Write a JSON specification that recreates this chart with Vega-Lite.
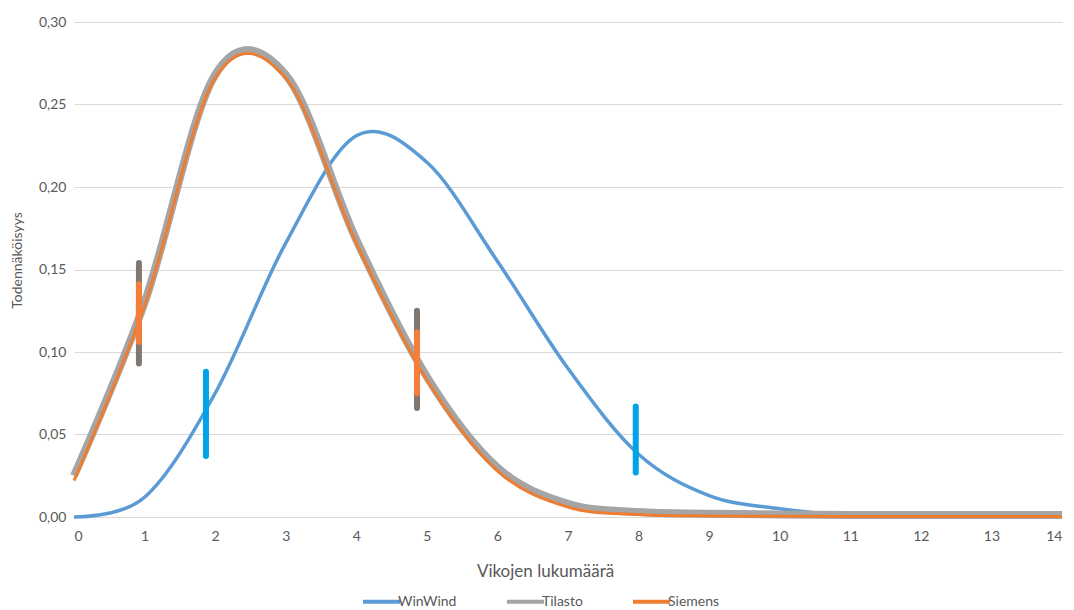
{
  "$schema": "https://vega.github.io/schema/vega-lite/v6.json",
  "width": 988,
  "height": 495,
  "autosize": "none",
  "padding": {"left": 74, "top": 22, "right": 12, "bottom": 93},
  "background": "white",
  "config": {
    "font": "Lato",
    "view": {"stroke": null},
    "axis": {"labelColor": "#595959", "titleColor": "#595959", "labelFont": "Lato", "titleFont": "Lato", "labelFontSize": 14, "titleFontSize": 17, "titleFontWeight": "normal", "ticks": false, "gridColor": "#D9D9D9", "gridWidth": 1, "domainColor": "#D9D9D9"}
  },
  "datasets": {
    "lines": [
      {"series": "WinWind", "x": 0, "y": 0.0},
      {"series": "WinWind", "x": 1, "y": 0.012},
      {"series": "WinWind", "x": 2, "y": 0.075},
      {"series": "WinWind", "x": 3, "y": 0.166},
      {"series": "WinWind", "x": 4, "y": 0.231},
      {"series": "WinWind", "x": 5, "y": 0.215},
      {"series": "WinWind", "x": 6, "y": 0.155},
      {"series": "WinWind", "x": 7, "y": 0.09},
      {"series": "WinWind", "x": 8, "y": 0.038},
      {"series": "WinWind", "x": 9, "y": 0.013},
      {"series": "WinWind", "x": 10, "y": 0.005},
      {"series": "WinWind", "x": 11, "y": 0.001},
      {"series": "WinWind", "x": 12, "y": 0.001},
      {"series": "WinWind", "x": 13, "y": 0.001},
      {"series": "WinWind", "x": 14, "y": 0.001},
      {"series": "Tilasto", "x": 0, "y": 0.025},
      {"series": "Tilasto", "x": 1, "y": 0.13},
      {"series": "Tilasto", "x": 2, "y": 0.268},
      {"series": "Tilasto", "x": 3, "y": 0.268},
      {"series": "Tilasto", "x": 4, "y": 0.168},
      {"series": "Tilasto", "x": 5, "y": 0.085},
      {"series": "Tilasto", "x": 6, "y": 0.03},
      {"series": "Tilasto", "x": 7, "y": 0.008},
      {"series": "Tilasto", "x": 8, "y": 0.003},
      {"series": "Tilasto", "x": 9, "y": 0.002},
      {"series": "Tilasto", "x": 10, "y": 0.0015},
      {"series": "Tilasto", "x": 11, "y": 0.0012},
      {"series": "Tilasto", "x": 12, "y": 0.0012},
      {"series": "Tilasto", "x": 13, "y": 0.0012},
      {"series": "Tilasto", "x": 14, "y": 0.0012},
      {"series": "Siemens", "x": 0, "y": 0.022},
      {"series": "Siemens", "x": 1, "y": 0.128},
      {"series": "Siemens", "x": 2, "y": 0.266},
      {"series": "Siemens", "x": 3, "y": 0.266},
      {"series": "Siemens", "x": 4, "y": 0.166},
      {"series": "Siemens", "x": 5, "y": 0.083},
      {"series": "Siemens", "x": 6, "y": 0.028},
      {"series": "Siemens", "x": 7, "y": 0.006},
      {"series": "Siemens", "x": 8, "y": 0.0015},
      {"series": "Siemens", "x": 9, "y": 0.0006},
      {"series": "Siemens", "x": 10, "y": 0.0004},
      {"series": "Siemens", "x": 11, "y": 0.0003},
      {"series": "Siemens", "x": 12, "y": 0.0003},
      {"series": "Siemens", "x": 13, "y": 0.0003},
      {"series": "Siemens", "x": 14, "y": 0.0003}
    ],
    "bars": [
      {"series": "Tilasto", "x": 0.92, "lo": 0.093, "hi": 0.154},
      {"series": "Tilasto", "x": 4.86, "lo": 0.066, "hi": 0.125},
      {"series": "Siemens", "x": 0.92, "lo": 0.106, "hi": 0.141},
      {"series": "Siemens", "x": 4.86, "lo": 0.075, "hi": 0.112},
      {"series": "WinWind", "x": 1.87, "lo": 0.037, "hi": 0.088},
      {"series": "WinWind", "x": 7.96, "lo": 0.027, "hi": 0.067}
    ]
  },
  "encoding": {
    "x": {"field": "x", "type": "quantitative", "scale": {"domain": [0, 14], "nice": false, "zero": false},
      "axis": {"values": [0,1,2,3,4,5,6,7,8,9,10,11,12,13,14], "grid": false, "title": "Vikojen lukumäärä", "labelPadding": 12, "titlePadding": 20, "titleX": 471}}
  },
  "layer": [
    {
      "data": {"name": "lines"},
      "transform": [{"filter": "datum.series === 'WinWind'"}],
      "mark": {"type": "line", "interpolate": "cardinal", "tension": 0, "strokeWidth": 3.5},
      "encoding": {
        "y": {"field": "y", "type": "quantitative", "scale": {"domain": [0, 0.3], "nice": false},
          "axis": {"values": [0, 0.05, 0.1, 0.15, 0.2, 0.25, 0.3], "labelExpr": "replace(format(datum.value, '.2f'), '.', ',')", "domain": false, "title": "Todennäköisyys", "titleFontSize": 14, "labelPadding": 8, "titlePadding": 14, "titleY": 238}},
        "order": {"field": "x"},
        "color": {"field": "series", "type": "nominal",
          "scale": {"domain": ["WinWind", "Tilasto", "Siemens"], "range": ["#5B9BD5", "#A5A5A5", "#ED7D31"]},
          "legend": {"title": null, "orient": "none", "direction": "horizontal", "legendX": 287, "legendY": 559,
            "symbolType": "stroke", "symbolSize": 1369, "symbolStrokeWidth": 4, "labelOffset": -4, "columnPadding": 42,
            "labelFont": "Lato", "labelFontSize": 14, "labelColor": "#595959", "padding": 0}}
      }
    },
    {
      "data": {"name": "lines"},
      "transform": [{"filter": "datum.series === 'Tilasto'"}],
      "mark": {"type": "line", "interpolate": "cardinal", "tension": 0, "strokeWidth": 8},
      "encoding": {"y": {"field": "y", "type": "quantitative"}, "order": {"field": "x"}, "color": {"field": "series", "type": "nominal"}}
    },
    {
      "data": {"name": "lines"},
      "transform": [{"filter": "datum.series === 'Siemens'"}],
      "mark": {"type": "line", "interpolate": "cardinal", "tension": 0, "strokeWidth": 3},
      "encoding": {"y": {"field": "y", "type": "quantitative"}, "order": {"field": "x"}, "color": {"field": "series", "type": "nominal"}}
    },
    {
      "data": {"name": "bars"},
      "transform": [{"filter": "datum.series === 'Tilasto'"}],
      "mark": {"type": "rule", "color": "#7F7770", "strokeWidth": 6, "strokeCap": "round"},
      "encoding": {"y": {"field": "lo", "type": "quantitative"}, "y2": {"field": "hi"}}
    },
    {
      "data": {"name": "bars"},
      "transform": [{"filter": "datum.series === 'Siemens'"}],
      "mark": {"type": "rule", "color": "#F47E3A", "strokeWidth": 6, "strokeCap": "round"},
      "encoding": {"y": {"field": "lo", "type": "quantitative"}, "y2": {"field": "hi"}}
    },
    {
      "data": {"name": "bars"},
      "transform": [{"filter": "datum.series === 'WinWind'"}],
      "mark": {"type": "rule", "color": "#00A2E8", "strokeWidth": 6, "strokeCap": "round"},
      "encoding": {"y": {"field": "lo", "type": "quantitative"}, "y2": {"field": "hi"}}
    }
  ]
}
